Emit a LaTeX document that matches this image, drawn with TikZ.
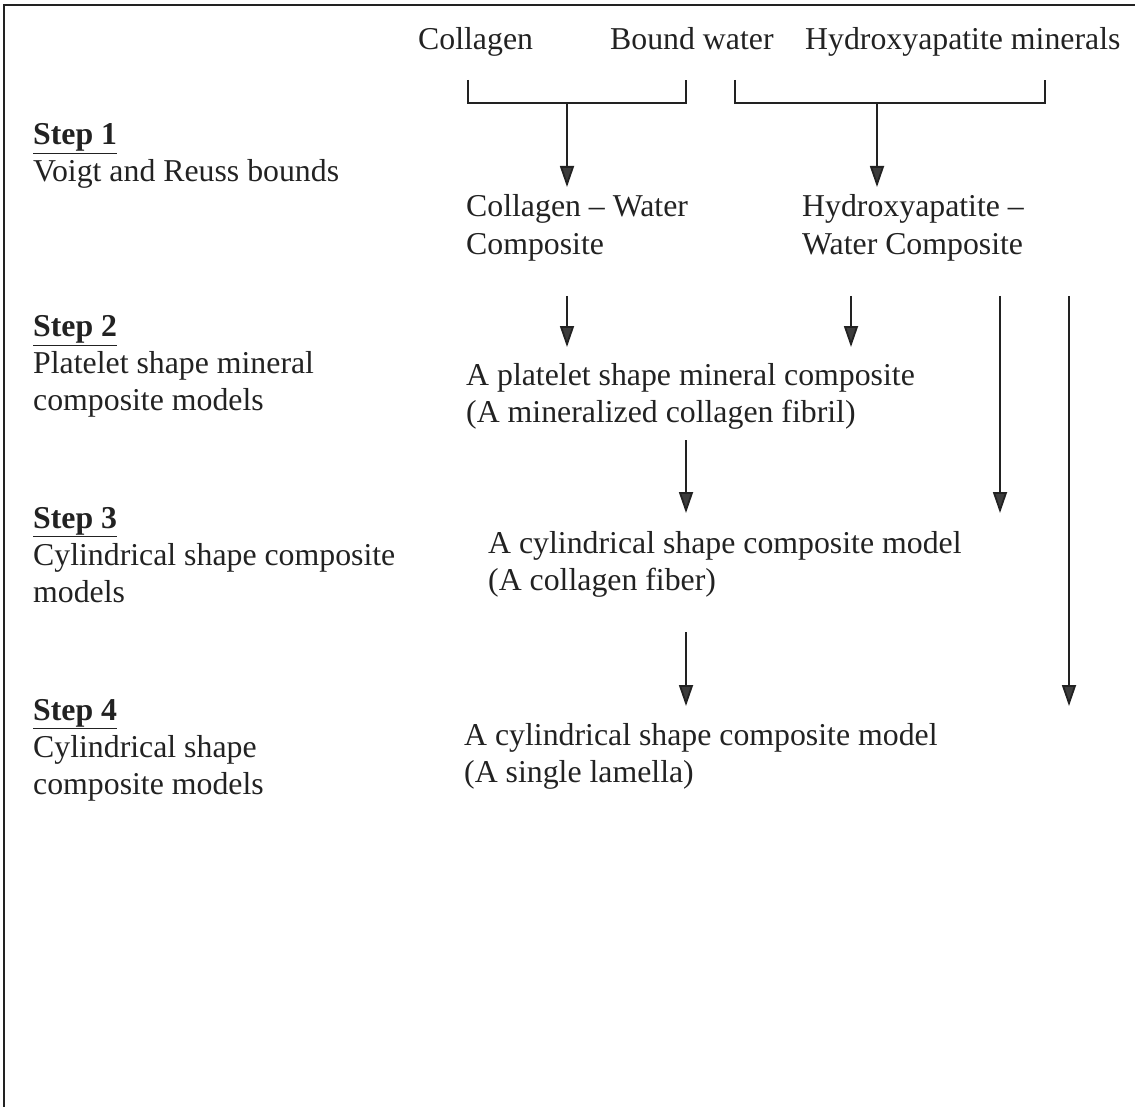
\documentclass[tikz,border=0pt]{standalone}
\usepackage{fontspec}
\setmainfont{Liberation Serif}
\usetikzlibrary{arrows.meta}
\definecolor{ink}{HTML}{222222}
\definecolor{tipgray}{HTML}{3C3C3C}
\begin{document}
\begin{tikzpicture}[x=1pt,y=-1pt,
  lbl/.style={anchor=base west,inner sep=0pt,align=left,font=\fontsize{31.8}{37.5}\selectfont,text=ink},
  ln/.style={line width=1.8pt,draw=ink},
  arr/.style={line width=1.8pt,draw=ink,-{Triangle[length=21pt,width=14pt,fill=tipgray]}}]
\useasboundingbox (0,0) rectangle (1135,1107);
% frame
\draw[ln] (1135,5) -- (4,5) -- (4,1107);
% top labels
\node[lbl] (col) at (418,50) {Collagen};
\node[lbl] (bw) at (610,50) {Bound water};
\node[lbl] (hm) at (805,50) {Hydroxyapatite minerals};
% steps (multi-line nodes: base = baseline of last line)
\node[lbl] (s1) at (33,145) {\underline{\textbf{Step 1}}};
\node[lbl] (s1t) at (33,182) {Voigt and Reuss bounds};
\node[lbl] (s2) at (33,337) {\underline{\textbf{Step 2}}};
\node[lbl] (s2t) at (33,410.5) {Platelet shape mineral\\composite models};
\node[lbl] (s3) at (33,528) {\underline{\textbf{Step 3}}};
\node[lbl] (s3t) at (33,602.5) {Cylindrical shape composite\\models};
\node[lbl] (s4) at (33,720) {\underline{\textbf{Step 4}}};
\node[lbl] (s4t) at (33,794.5) {Cylindrical shape\\composite models};
% composites
\node[lbl] (cw) at (466,254.5) {Collagen -- Water\\Composite};
\node[lbl] (hw) at (802,254.5) {Hydroxyapatite --\\Water Composite};
\node[lbl] (pl) at (466,422.5) {A platelet shape mineral composite\\(A mineralized collagen fibril)};
\node[lbl] (cf) at (488,590.5) {A cylindrical shape composite model\\(A collagen fiber)};
\node[lbl] (sl) at (464,782.5) {A cylindrical shape composite model\\(A single lamella)};
% brackets
\coordinate (b1l) at (468,80); \coordinate (b1r) at (686,80);
\coordinate (b1m) at (567,103);
\coordinate (b2l) at (735,80); \coordinate (b2r) at (1045,80);
\coordinate (b2m) at (877,103);
\draw[ln] (b1l) |- (b1r |- b1m) -- (b1r);
\draw[ln] (b2l) |- (b2r |- b2m) -- (b2r);
\coordinate (t1) at (567,187); \coordinate (t2) at (877,187);
\draw[arr] (b1m) -- (t1);
\draw[arr] (b2m) -- (t2);
% step 2 arrows
\coordinate (a1s) at (567,296); \coordinate (a1e) at (567,347);
\coordinate (a2s) at (851,296); \coordinate (a2e) at (851,347);
\draw[arr] (a1s) -- (a1e);
\draw[arr] (a2s) -- (a2e);
% long arrows
\coordinate (l1s) at (1000,296); \coordinate (l1e) at (1000,513);
\coordinate (l2s) at (1069,296); \coordinate (l2e) at (1069,706);
\draw[arr] (l1s) -- (l1e);
\draw[arr] (l2s) -- (l2e);
% step 3 / 4 arrows
\coordinate (a3s) at (686,440); \coordinate (a3e) at (686,513);
\coordinate (a4s) at (686,632); \coordinate (a4e) at (686,706);
\draw[arr] (a3s) -- (a3e);
\draw[arr] (a4s) -- (a4e);
\end{tikzpicture}
\end{document}
